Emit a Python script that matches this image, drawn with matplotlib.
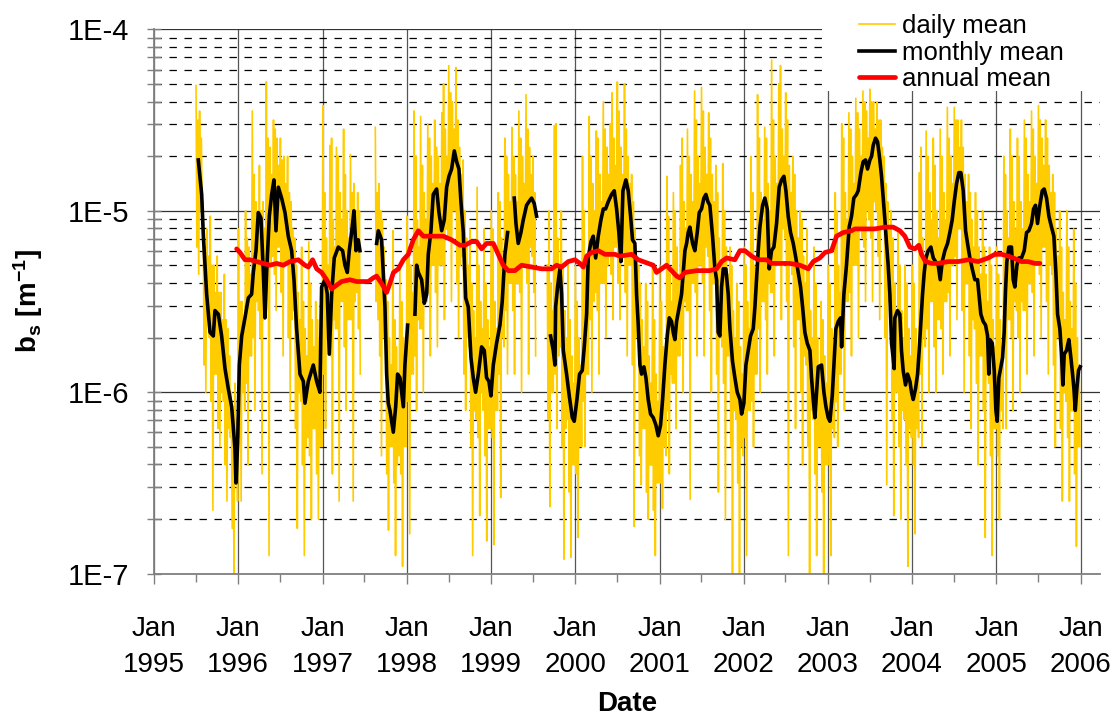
import numpy as np
import pandas as pd
import matplotlib
matplotlib.use("Agg")
import matplotlib.pyplot as plt
import matplotlib.dates as mdates
from matplotlib.ticker import LogLocator, NullFormatter
from matplotlib.patches import Rectangle

plt.rcParams['font.family'] = ['Liberation Sans', 'DejaVu Sans']
plt.rcParams['mathtext.fontset'] = 'custom'
plt.rcParams['mathtext.rm'] = 'Liberation Sans:bold'
plt.rcParams['mathtext.it'] = 'Liberation Sans:bold'
plt.rcParams['mathtext.bf'] = 'Liberation Sans:bold'

nan = float('nan')

# ---------------- tick labels ----------------
xtick_years = list(range(1995, 2007))
xtick_labels = ['Jan\n%d' % y for y in xtick_years]
ytick_values = [1e-7, 1e-6, 1e-5, 1e-4]
ytick_labels = ['1E-7', '1E-6', '1E-5', '1E-4']
legend_labels = ['daily mean', 'monthly mean', 'annual mean']

# ---------------- daily mean (log10 of b_s), 8 readings per month ----------------
daily_1995 = [  # Jul..Dec
    -4.31, -5.20, -4.50, -5.35, -4.45, -5.00, -4.60, -5.05,
    -4.95, -5.85, -5.20, -6.00, -5.10, -5.60, -5.25, -5.70,
    -5.03, -6.05, -5.30, -6.65, -5.30, -5.90, -5.45, -5.90,
    -5.25, -6.20, -5.45, -6.30, -5.45, -6.00, -5.60, -6.05,
    -5.35, -6.40, -5.60, -6.60, -5.65, -6.20, -5.80, -6.25,
    -6.00, -6.75, -6.10, -7.00, -5.95, -6.50, -6.15, -6.60]
daily_1996 = [
    -5.10, -6.25, -5.50, -6.60, -5.50, -6.00, -5.65, -6.10,
    -5.00, -5.95, -5.15, -6.40, -5.20, -5.80, -5.35, -5.80,
    -4.45, -5.70, -4.80, -6.10, -4.95, -5.50, -5.10, -5.55,
    -4.75, -5.70, -5.00, -6.45, -4.95, -5.60, -5.10, -5.55,
    -4.29, -5.40, -4.60, -6.90, -4.65, -5.30, -4.80, -5.25,
    -4.50, -5.35, -4.55, -5.55, -4.60, -5.20, -4.75, -5.20,
    -4.60, -5.45, -4.72, -5.80, -4.70, -5.30, -4.85, -5.30,
    -4.70, -5.70, -4.90, -6.10, -4.95, -5.60, -5.10, -5.55,
    -5.15, -6.20, -5.30, -6.75, -5.45, -6.00, -5.60, -6.05,
    -5.20, -6.40, -5.50, -6.90, -5.65, -6.30, -5.80, -6.25,
    -5.17, -6.35, -5.40, -6.70, -5.60, -6.20, -5.75, -6.20,
    -5.50, -6.45, -5.60, -6.70, -5.70, -6.30, -5.85, -6.30]
daily_1997 = [
    -4.42, -5.90, -4.90, -6.20, -5.15, -5.70, -5.30, -5.75,
    -4.64, -5.80, -4.60, -6.45, -5.05, -5.60, -5.20, -5.65,
    -4.65, -5.65, -4.70, -6.60, -4.90, -5.50, -5.05, -5.50,
    -4.55, -5.75, -4.80, -6.10, -5.00, -5.60, -5.15, -5.60,
    -4.69, -5.60, -4.90, -6.60, -4.85, -5.50, -5.00, -5.45,
    -4.90, -5.65, -5.00, -5.90, nan, nan, nan, nan,
    nan, nan, nan, nan, nan, nan, nan, nan,
    nan, nan, nan, nan, -4.54, -5.50, -4.90, -5.60,
    -4.85, -5.80, -5.00, -6.35, -5.05, -5.70, -5.20, -5.65,
    -5.38, -6.45, -5.50, -6.76, -5.70, -6.30, -5.85, -6.30,
    -5.11, -6.50, -5.60, -6.90, -5.75, -6.40, -5.90, -6.35,
    -5.30, -6.45, -5.50, -6.96, -5.70, -6.30, -5.85, -6.30]
daily_1998 = [
    -5.03, -6.05, -5.20, -6.78, -5.30, -5.90, -5.45, -5.90,
    -4.45, -5.80, -4.70, -6.10, -5.05, -5.60, -5.20, -5.65,
    -4.48, -5.65, -4.75, -6.00, -4.90, -5.50, -5.05, -5.50,
    -4.52, -5.45, -4.60, -5.80, -4.70, -5.30, -4.85, -5.30,
    -4.50, -5.45, -4.65, -5.75, -4.70, -5.30, -4.85, -5.30,
    -4.46, -5.30, -4.30, -5.60, -4.55, -5.10, -4.70, -5.15,
    -4.20, -5.15, -4.35, -5.50, -4.40, -5.00, -4.55, -5.00,
    -4.21, -5.40, -4.50, -5.70, -4.65, -5.30, -4.80, -5.25,
    -4.72, -5.90, -5.00, -6.10, -5.15, -5.70, -5.30, -5.75,
    -5.10, -6.30, -5.40, -6.90, -5.55, -6.10, -5.70, -6.15,
    -4.87, -6.25, -5.30, -6.68, -5.50, -6.00, -5.65, -6.10,
    -5.10, -6.35, -5.40, -6.82, -5.60, -6.20, -5.75, -6.20]
daily_1999 = [
    -5.00, -6.25, -5.10, -6.84, -5.50, -6.10, -5.65, -6.10,
    -4.90, -5.90, -4.95, -6.58, -5.15, -5.70, -5.30, -5.75,
    -4.60, -5.55, -4.70, -5.90, -4.80, -5.40, -4.95, -5.40,
    -4.54, -5.55, -4.70, -5.90, -4.80, -5.40, -4.95, -5.40,
    -4.45, -5.45, -4.60, -6.00, -4.70, -5.30, -4.85, -5.30,
    -4.36, -5.40, -4.55, -5.90, -4.65, -5.20, -4.80, -5.25,
    -4.70, -5.45, -4.90, -5.80, nan, nan, nan, nan,
    nan, nan, nan, nan, nan, nan, nan, nan,
    -5.30, -6.15, -5.00, -6.63, -5.40, -6.00, -5.55, -6.00,
    -4.53, -5.90, -4.52, -6.20, -5.15, -5.80, -5.30, -5.75,
    -5.00, -6.30, -5.30, -6.92, -5.55, -6.20, -5.70, -6.15,
    -5.30, -6.55, -5.60, -6.91, -5.80, -6.40, -5.95, -6.40]
daily_2000 = [
    -5.30, -6.45, -5.50, -6.80, -5.70, -6.30, -5.85, -6.30,
    -4.70, -6.05, -5.00, -6.30, -5.30, -5.90, -5.45, -5.90,
    -4.48, -5.60, -4.70, -6.00, -4.85, -5.50, -5.00, -5.45,
    -4.56, -5.55, -4.60, -5.90, -4.80, -5.40, -4.95, -5.40,
    -4.40, -5.40, -4.55, -5.70, -4.65, -5.30, -4.80, -5.25,
    -4.52, -5.35, -4.35, -5.60, -4.60, -5.20, -4.75, -5.20,
    -4.29, -5.40, -4.45, -5.60, -4.65, -5.25, -4.80, -5.25,
    -4.30, -5.45, -4.55, -5.80, -4.70, -5.30, -4.85, -5.30,
    -4.80, -5.85, -4.95, -6.74, -5.10, -5.70, -5.25, -5.70,
    -5.30, -6.35, -5.40, -6.51, -5.60, -6.20, -5.75, -6.20,
    -5.40, -6.55, -5.50, -6.70, -5.80, -6.40, -5.95, -6.40,
    -5.30, -6.65, -5.60, -6.90, -5.90, -6.50, -6.05, -6.50]
daily_2001 = [
    -5.30, -6.50, -5.50, -6.64, -5.75, -6.30, -5.90, -6.35,
    -4.81, -6.10, -5.03, -6.45, -5.35, -5.90, -5.50, -5.95,
    -4.90, -5.95, -5.00, -6.20, -5.20, -5.80, -5.35, -5.80,
    -4.75, -5.70, -4.60, -6.00, -4.95, -5.50, -5.10, -5.55,
    -4.55, -5.55, -4.70, -6.59, -4.80, -5.40, -4.95, -5.40,
    -4.34, -5.45, -4.50, -5.80, -4.70, -5.30, -4.85, -5.30,
    -4.32, -5.40, -4.45, -5.80, -4.65, -5.20, -4.80, -5.25,
    -4.46, -5.55, -4.60, -6.00, -4.80, -5.40, -4.95, -5.40,
    -4.75, -5.90, -4.90, -6.55, -5.15, -5.70, -5.30, -5.75,
    -4.74, -5.95, -5.00, -6.70, -5.20, -5.80, -5.35, -5.80,
    -5.20, -6.30, -5.30, -7.00, -5.55, -6.10, -5.70, -6.15,
    -5.40, -6.50, -5.50, -7.00, -5.75, -6.30, -5.90, -6.35]
daily_2002 = [
    -5.20, -6.25, -5.30, -6.90, -5.50, -6.10, -5.65, -6.10,
    -4.70, -6.05, -4.90, -6.30, -5.30, -5.90, -5.45, -5.90,
    -4.36, -5.65, -4.60, -6.00, -4.90, -5.50, -5.05, -5.50,
    -4.54, -5.60, -4.60, -5.90, -4.85, -5.40, -5.00, -5.45,
    -4.17, -5.45, -4.50, -5.80, -4.70, -5.30, -4.85, -5.30,
    -4.30, -5.30, -4.20, -5.60, -4.55, -5.10, -4.70, -5.15,
    -4.35, -5.50, -4.50, -6.90, -4.75, -5.30, -4.90, -5.35,
    -4.70, -5.75, -4.80, -6.20, -5.00, -5.60, -5.15, -5.60,
    -5.00, -6.00, -5.05, -6.40, -5.25, -5.80, -5.40, -5.85,
    -5.10, -6.30, -5.30, -7.00, -5.55, -6.10, -5.70, -6.15,
    -5.20, -6.45, -5.40, -6.90, -5.70, -6.30, -5.85, -6.30,
    -5.50, -6.55, -5.60, -7.00, -5.80, -6.40, -5.95, -6.40]
daily_2003 = [
    -5.30, -6.40, -5.40, -6.90, -5.65, -6.20, -5.80, -6.25,
    -4.90, -6.05, -5.00, -6.30, -5.30, -5.90, -5.45, -5.90,
    -4.52, -5.65, -4.60, -6.10, -4.90, -5.50, -5.05, -5.50,
    -4.46, -5.45, -4.55, -5.80, -4.70, -5.30, -4.85, -5.30,
    -4.38, -5.30, -4.46, -5.70, -4.55, -5.10, -4.70, -5.15,
    -4.34, -5.20, -4.40, -5.50, -4.45, -5.00, -4.60, -5.05,
    -4.33, -5.15, -4.40, -5.50, -4.40, -4.95, -4.55, -5.00,
    -4.40, -5.25, -4.50, -5.60, -4.50, -5.10, -4.65, -5.10,
    -4.70, -5.70, -4.85, -6.51, -4.95, -5.50, -5.10, -5.55,
    -5.00, -6.15, -5.15, -6.68, -5.40, -6.00, -5.55, -6.00,
    -5.10, -6.30, -5.30, -6.70, -5.55, -6.10, -5.70, -6.15,
    -5.30, -6.40, -5.40, -6.96, -5.65, -6.20, -5.80, -6.25]
daily_2004 = [
    -5.30, -6.40, -5.40, -6.78, -5.65, -6.20, -5.80, -6.25,
    -4.79, -5.90, -4.65, -6.30, -5.15, -5.70, -5.30, -5.75,
    -4.56, -5.65, -4.70, -6.00, -4.90, -5.50, -5.05, -5.50,
    -4.60, -5.75, -4.75, -6.00, -5.00, -5.60, -5.15, -5.60,
    -4.55, -5.65, -4.70, -5.90, -4.90, -5.50, -5.05, -5.50,
    -4.43, -5.45, -4.60, -5.80, -4.70, -5.30, -4.85, -5.30,
    -4.43, -5.25, -4.50, -5.60, -4.50, -5.10, -4.65, -5.10,
    -4.50, -5.55, -4.65, -6.00, -4.80, -5.40, -4.95, -5.40,
    -4.80, -5.80, -4.90, -6.20, -5.05, -5.60, -5.20, -5.65,
    -4.90, -5.95, -5.00, -6.40, -5.20, -5.80, -5.35, -5.80,
    -5.00, -6.10, -5.20, -6.80, -5.35, -5.90, -5.50, -5.95,
    -5.20, -6.35, -5.30, -6.90, -5.60, -6.20, -5.75, -6.20]
daily_2005 = [
    -5.20, -6.35, -5.35, -6.70, -5.60, -6.10, -5.75, -6.20,
    -4.70, -5.75, -4.80, -6.20, -5.00, -5.60, -5.15, -5.60,
    -4.55, -5.70, -4.70, -6.10, -4.95, -5.50, -5.10, -5.55,
    -4.60, -5.70, -4.70, -6.00, -4.95, -5.50, -5.10, -5.55,
    -4.50, -5.55, -4.60, -5.90, -4.80, -5.40, -4.95, -5.40,
    -4.45, -5.45, -4.55, -5.80, -4.70, -5.30, -4.85, -5.30,
    -4.42, -5.35, -4.50, -5.70, -4.60, -5.20, -4.75, -5.20,
    -4.50, -5.50, -4.60, -5.90, -4.75, -5.30, -4.90, -5.35,
    -4.80, -5.85, -4.90, -6.30, -5.10, -5.70, -5.25, -5.70,
    -5.00, -6.20, -5.20, -6.60, -5.45, -6.00, -5.60, -6.05,
    -5.00, -6.25, -5.20, -6.60, -5.50, -6.10, -5.65, -6.10,
    -5.10, -6.45, -5.40, -6.85, -5.70, -6.30, -5.85, -6.30]

# ---------------- monthly (running) mean: decimal year, log10 value ----------------
monthly_t = [
    1995.526, 1995.566, 1995.586, 1995.625, 1995.665, 1995.704, 1995.724, 1995.764, 1995.803, 1995.843,
    1995.882, 1995.922, 1995.961, 1995.973, 1995.993, 1996.013, 1996.041, 1996.080, 1996.120, 1996.159,
    1996.179, 1996.211, 1996.238, 1996.270, 1996.298, 1996.318, 1996.337, 1996.369, 1996.397, 1996.424,
    1996.448, 1996.476, 1996.515, 1996.555, 1996.594, 1996.634, 1996.662, 1996.693, 1996.733, 1996.773,
    1996.792, 1996.832, 1996.891, 1996.931, 1996.970, 1996.990, 1997.030, 1997.057, 1997.081, 1997.109,
    1997.140, 1997.188, 1997.239, 1997.267, 1997.295, 1997.318, 1997.346, 1997.374, 1997.398, 1997.425,
    1997.445,
    1997.540,
    1997.643, 1997.663, 1997.702, 1997.742, 1997.762, 1997.781, 1997.801, 1997.841, 1997.869, 1997.892,
    1997.920, 1997.960, 1997.979, 1998.011,
    1998.050,
    1998.098, 1998.118, 1998.138, 1998.177, 1998.209, 1998.237, 1998.256, 1998.288, 1998.315, 1998.355,
    1998.383, 1998.415, 1998.446, 1998.474, 1998.502, 1998.533, 1998.565, 1998.593, 1998.620, 1998.644,
    1998.672, 1998.700, 1998.731, 1998.763, 1998.790, 1998.818, 1998.850, 1998.889, 1998.921, 1998.948,
    1998.976, 1999.000, 1999.028, 1999.067, 1999.107, 1999.134, 1999.166, 1999.198,
    1999.240,
    1999.277, 1999.297, 1999.324, 1999.356, 1999.384, 1999.423, 1999.451, 1999.483, 1999.514, 1999.542,
    1999.620,
    1999.708, 1999.740, 1999.760, 1999.768, 1999.791, 1999.819, 1999.839, 1999.859, 1999.898, 1999.930,
    1999.966, 1999.989, 2000.021, 2000.052, 2000.084, 2000.108, 2000.136, 2000.155, 2000.187, 2000.215,
    2000.243, 2000.274, 2000.306, 2000.334, 2000.361, 2000.393, 2000.432, 2000.464, 2000.492, 2000.519,
    2000.543, 2000.567,
    2000.602, 2000.630, 2000.658, 2000.681, 2000.709, 2000.729, 2000.749, 2000.769, 2000.788, 2000.816,
    2000.840, 2000.867, 2000.895, 2000.927, 2000.958, 2000.986, 2001.014, 2001.038, 2001.065, 2001.093,
    2001.117, 2001.144, 2001.164, 2001.184, 2001.204, 2001.235, 2001.263, 2001.283, 2001.303, 2001.323,
    2001.342, 2001.362, 2001.394, 2001.421, 2001.449, 2001.473, 2001.500, 2001.528, 2001.552, 2001.576,
    2001.599, 2001.631, 2001.659, 2001.679, 2001.698, 2001.718, 2001.738, 2001.758, 2001.789, 2001.817,
    2001.837, 2001.868, 2001.896, 2001.924, 2001.956, 2001.976, 2002.003, 2002.027, 2002.055, 2002.082,
    2002.114, 2002.134, 2002.153, 2002.173, 2002.193, 2002.225, 2002.252, 2002.280, 2002.304, 2002.331,
    2002.359, 2002.391, 2002.422, 2002.450, 2002.478, 2002.502, 2002.529, 2002.557, 2002.589, 2002.620,
    2002.648, 2002.676, 2002.700, 2002.727, 2002.755, 2002.787, 2002.806, 2002.826, 2002.846, 2002.866,
    2002.886, 2002.925, 2002.953, 2002.977, 2003.004, 2003.024, 2003.052, 2003.072, 2003.095, 2003.123,
    2003.151, 2003.163, 2003.190, 2003.221, 2003.253, 2003.281, 2003.308, 2003.340,
    2003.360, 2003.392, 2003.419, 2003.447, 2003.471, 2003.499, 2003.519, 2003.538, 2003.566, 2003.590,
    2003.617, 2003.637, 2003.657, 2003.677, 2003.696, 2003.716, 2003.736, 2003.756, 2003.775, 2003.787,
    2003.795, 2003.827, 2003.854, 2003.874, 2003.894, 2003.922, 2003.946, 2003.974, 2003.993, 2004.013,
    2004.041, 2004.065, 2004.084, 2004.104, 2004.124, 2004.144, 2004.164, 2004.191, 2004.223, 2004.251,
    2004.278, 2004.310, 2004.334, 2004.358, 2004.389, 2004.421, 2004.448, 2004.476, 2004.500, 2004.528,
    2004.555, 2004.579, 2004.607, 2004.635, 2004.658, 2004.686, 2004.714, 2004.745, 2004.777, 2004.793,
    2004.816, 2004.844, 2004.872, 2004.896, 2004.911, 2004.923, 2004.951, 2004.975, 2004.995, 2005.010,
    2005.030, 2005.054, 2005.074, 2005.093, 2005.109, 2005.125, 2005.149, 2005.180, 2005.200, 2005.220,
    2005.244, 2005.267, 2005.299, 2005.331, 2005.359, 2005.386, 2005.418, 2005.442, 2005.465, 2005.489,
    2005.517, 2005.545, 2005.568, 2005.596, 2005.624, 2005.655, 2005.683, 2005.707, 2005.727, 2005.754,
    2005.774, 2005.790, 2005.806, 2005.833, 2005.861, 2005.885, 2005.905, 2005.921, 2005.937, 2005.956,
    2005.976, 2005.996]
monthly_log10 = [
    -4.72, -4.91, -5.14, -5.46, -5.67, -5.69, -5.55, -5.57, -5.69, -5.87,
    -5.98, -6.08, -6.31, -6.50, -6.28, -5.85, -5.69, -5.59, -5.48, -5.46,
    -5.34, -5.22, -5.01, -5.04, -5.34, -5.59, -5.34, -5.03, -4.91, -4.83,
    -5.11, -4.87, -4.93, -5.01, -5.14, -5.22, -5.38, -5.65, -5.90, -5.94,
    -6.06, -5.94, -5.85, -5.94, -6.00, -5.42, -5.38, -5.46, -5.79, -5.46,
    -5.26, -5.20, -5.22, -5.30, -5.34, -5.22, -5.12, -5.00, -5.22, -5.16,
    -5.22,
    nan,
    -5.18, -5.11, -5.16, -5.53, -5.90, -6.06, -6.10, -6.22, -6.08, -5.90,
    -5.92, -6.08, -5.85, -5.63,
    nan,
    -5.57, -5.30, -5.34, -5.38, -5.51, -5.46, -5.24, -5.11, -4.91, -4.88,
    -5.01, -5.11, -5.05, -4.87, -4.81, -4.77, -4.67, -4.73, -4.77, -4.95,
    -5.12, -5.48, -5.53, -5.81, -5.92, -6.00, -5.90, -5.75, -5.77, -5.92,
    -5.94, -6.02, -5.85, -5.73, -5.63, -5.50, -5.24, -5.12,
    nan,
    -4.93, -5.07, -5.18, -5.12, -5.05, -4.97, -4.95, -4.93, -4.96, -5.03,
    nan,
    -5.69, -5.77, -5.85, -5.53, -5.42, -5.32, -5.46, -5.77, -5.90, -6.02,
    -6.14, -6.16, -6.04, -5.90, -5.88, -5.75, -5.57, -5.26, -5.17, -5.14,
    -5.26, -5.14, -5.05, -4.99, -4.99, -4.95, -4.91, -4.89, -4.99, -5.12,
    -5.28, -4.89,
    -4.83, -4.89, -5.03, -5.16, -5.18, -5.46, -5.63, -5.85, -5.90, -5.86,
    -5.92, -6.04, -6.12, -6.14, -6.18, -6.24, -6.18, -6.04, -5.85, -5.69,
    -5.59, -5.61, -5.67, -5.71, -5.61, -5.53, -5.46, -5.34, -5.22, -5.18,
    -5.12, -5.09, -5.18, -5.22, -5.12, -5.01, -4.99, -4.93, -4.91, -4.95,
    -4.97, -5.14, -5.32, -5.38, -5.67, -5.69, -5.42, -5.32, -5.32, -5.46,
    -5.65, -5.83, -5.92, -6.00, -6.04, -6.12, -6.06, -5.85, -5.77, -5.69,
    -5.65, -5.53, -5.38, -5.22, -5.09, -4.97, -4.93, -4.99, -5.32, -5.22,
    -5.20, -5.07, -4.87, -4.83, -4.81, -4.89, -5.03, -5.12, -5.18, -5.26,
    -5.34, -5.42, -5.53, -5.67, -5.73, -5.77, -5.92, -6.04, -6.14, -6.00,
    -5.86, -5.85, -6.00, -6.08, -6.14, -6.16, -6.02, -5.85, -5.65, -5.61,
    -5.59, -5.75, -5.46, -5.30, -5.09, -5.03, -4.93, -4.91,
    -4.89, -4.79, -4.73, -4.72, -4.77, -4.72, -4.70, -4.64, -4.60, -4.62,
    -4.72, -4.81, -4.93, -5.05, -5.18, -5.30, -5.46, -5.73, -5.81, -5.87,
    -5.59, -5.55, -5.57, -5.77, -5.88, -5.96, -5.90, -5.94, -6.00, -6.04,
    -5.98, -5.90, -5.77, -5.61, -5.46, -5.34, -5.26, -5.22, -5.20, -5.26,
    -5.28, -5.30, -5.38, -5.28, -5.22, -5.18, -5.12, -5.05, -4.95, -4.85,
    -4.79, -4.79, -4.89, -5.11, -5.18, -5.26, -5.32, -5.38, -5.38, -5.46,
    -5.57, -5.61, -5.63, -5.69, -5.90, -5.71, -5.73, -5.88, -6.10, -6.16,
    -5.92, -5.86, -5.81, -5.67, -5.44, -5.28, -5.20, -5.20, -5.38, -5.42,
    -5.30, -5.26, -5.26, -5.22, -5.12, -5.11, -5.07, -4.99, -4.97, -5.07,
    -4.97, -4.89, -4.88, -4.93, -5.03, -5.09, -5.14, -5.34, -5.57, -5.65,
    -5.79, -5.96, -5.79, -5.77, -5.71, -5.81, -5.90, -5.98, -6.10, -5.98,
    -5.88, -5.86]

# ---------------- annual (running) mean: decimal year, log10 value ----------------
annual_t = [
    1995.981, 1996.021, 1996.080, 1996.139, 1996.219, 1996.298, 1996.377, 1996.456, 1996.535, 1996.614,
    1996.713, 1996.792, 1996.832, 1996.883, 1996.931, 1996.990, 1997.049, 1997.109, 1997.168, 1997.227,
    1997.326, 1997.406, 1997.485, 1997.544, 1997.603, 1997.643, 1997.702, 1997.762, 1997.801, 1997.843,
    1997.901, 1997.960, 1998.019, 1998.078, 1998.138, 1998.197, 1998.296, 1998.434, 1998.533, 1998.632,
    1998.692, 1998.771, 1998.830, 1998.889, 1998.948, 1999.028, 1999.087, 1999.146, 1999.206, 1999.285,
    1999.364, 1999.483, 1999.601, 1999.720, 1999.780, 1999.839, 1999.918, 1999.997, 2000.056, 2000.096,
    2000.136, 2000.195, 2000.274, 2000.353, 2000.472, 2000.531, 2000.670, 2000.749, 2000.867, 2000.927,
    2000.966, 2001.026, 2001.085, 2001.144, 2001.204, 2001.243, 2001.303, 2001.441, 2001.599, 2001.679,
    2001.738, 2001.797, 2001.896, 2001.956, 2002.015, 2002.094, 2002.173, 2002.272, 2002.331, 2002.430,
    2002.549, 2002.668, 2002.767, 2002.826, 2002.905, 2002.965, 2003.044, 2003.103, 2003.182, 2003.281,
    2003.321, 2003.439, 2003.558, 2003.677, 2003.775, 2003.855, 2003.914, 2003.973, 2004.033, 2004.080,
    2004.112, 2004.159, 2004.231, 2004.310, 2004.429, 2004.547, 2004.666, 2004.785, 2004.904, 2004.983,
    2005.062, 2005.141, 2005.200, 2005.299, 2005.378, 2005.457, 2005.517]
annual_log10 = [
    -5.21, -5.23, -5.27, -5.27, -5.28, -5.29, -5.30, -5.29, -5.30, -5.28,
    -5.27, -5.30, -5.31, -5.27, -5.32, -5.34, -5.38, -5.43, -5.41, -5.39,
    -5.38, -5.39, -5.39, -5.39, -5.37, -5.36, -5.40, -5.45, -5.40, -5.34,
    -5.32, -5.27, -5.24, -5.16, -5.11, -5.14, -5.14, -5.14, -5.16, -5.19,
    -5.19, -5.17, -5.17, -5.21, -5.18, -5.18, -5.24, -5.30, -5.33, -5.33,
    -5.30, -5.31, -5.32, -5.32, -5.30, -5.31, -5.28, -5.27, -5.29, -5.31,
    -5.25, -5.23, -5.22, -5.24, -5.24, -5.25, -5.24, -5.27, -5.29, -5.30,
    -5.34, -5.32, -5.30, -5.33, -5.36, -5.37, -5.34, -5.33, -5.33, -5.32,
    -5.28, -5.26, -5.27, -5.22, -5.22, -5.25, -5.27, -5.27, -5.29, -5.29,
    -5.29, -5.30, -5.32, -5.28, -5.26, -5.23, -5.22, -5.14, -5.12, -5.11,
    -5.10, -5.10, -5.10, -5.09, -5.09, -5.11, -5.14, -5.20, -5.21, -5.19,
    -5.24, -5.28, -5.29, -5.29, -5.28, -5.28, -5.27, -5.28, -5.26, -5.24,
    -5.24, -5.25, -5.26, -5.28, -5.28, -5.29, -5.29]

assert len(monthly_t) == len(monthly_log10)
assert len(annual_t) == len(annual_log10)


def year_to_date(t):
    t = np.asarray(t, dtype=float)
    base = np.datetime64('1995-01-01T00:00')
    return base + np.round((t - 1995.0) * 365.25 * 1440).astype('timedelta64[m]')


# daily readings: eight per month
month_starts = pd.date_range('1995-07-01', '2005-12-01', freq='MS')
daily_log10 = np.concatenate([daily_1995, daily_1996, daily_1997, daily_1998, daily_1999,
                              daily_2000, daily_2001, daily_2002, daily_2003, daily_2004,
                              daily_2005])
per_month = 8
assert len(daily_log10) == per_month * len(month_starts)
in_month = [(k + 0.3) / per_month for k in range(per_month)]
daily_dates = np.array([ms + pd.Timedelta(days=f * ms.days_in_month)
                        for ms in month_starts for f in in_month], dtype='datetime64[m]')

# ---------------- figure ----------------
W, H = 1115, 715
fig = plt.figure(figsize=(W / 100, H / 100), dpi=100)
ax_left, ax_right, ax_top, ax_bot = 154, 1100, 29.3, 573.7
ax = fig.add_axes([ax_left / W, 1 - ax_bot / H, (ax_right - ax_left) / W, (ax_bot - ax_top) / H])

ax.plot(daily_dates, 10 ** daily_log10, color='#FFCC00', lw=1.2, zorder=2, label=legend_labels[0])
ax.plot(year_to_date(monthly_t), 10 ** np.array(monthly_log10), color='black', lw=2.6,
        zorder=3, label=legend_labels[1])
ax.plot(year_to_date(annual_t), 10 ** np.array(annual_log10), color='#FF0000', lw=3.4,
        zorder=4, label=legend_labels[2], solid_capstyle='round')

ax.set_yscale('log')
ax.set_ylim(ytick_values[0], ytick_values[-1])
ax.set_yticks(ytick_values, labels=ytick_labels, fontsize=21)
ax.yaxis.set_minor_locator(LogLocator(base=10, subs=range(2, 10)))
ax.yaxis.set_minor_formatter(NullFormatter())

xticks = [np.datetime64('%d-01-01' % y) for y in xtick_years]
ax.set_xticks(xticks, labels=xtick_labels, fontsize=20, linespacing=1.54)
ax.xaxis.set_minor_locator(mdates.MonthLocator(bymonth=7))
ax.set_xlim(np.datetime64('1995-01-01'), np.datetime64('2006-03-26'))

ax.set_axisbelow(True)
ax.grid(which='major', axis='x', color='#555555', lw=0.9, ls='-')
ax.grid(which='major', axis='y', color='#333333', lw=0.9, ls='-')
ax.grid(which='minor', axis='y', color='black', lw=0.9, ls=(0, (5.9, 6.1)))

for s in ['top', 'right']:
    ax.spines[s].set_visible(False)
for s in ['left', 'bottom']:
    ax.spines[s].set_color('#808080')
    ax.spines[s].set_linewidth(1.3)

ax.tick_params(axis='y', which='both', direction='inout', length=9.5, width=1,
               color='#808080', pad=13)
ax.tick_params(axis='x', which='major', direction='out', length=7.5, width=1,
               color='#808080', pad=22.6)
ax.tick_params(axis='x', which='minor', direction='out', length=6, width=1,
               color='#808080')

ax.set_ylabel(r'$\mathrm{b_s\ [m^{-1}]}$', fontsize=20)
ax.yaxis.set_label_coords(-0.115, 0.5)
ax.set_xlabel('Date', fontsize=20, fontweight='bold')
ax.xaxis.set_label_coords(0.5, -0.2155)

# white area behind the legend (hides grid lines there)
ax.add_patch(Rectangle((822 / W, 1 - 91 / H), 1 - 822 / W, 91 / H, transform=fig.transFigure,
                       facecolor='white', edgecolor='none', zorder=1.5, clip_on=False))

leg = ax.legend(loc='upper left', bbox_to_anchor=(854 / W, 1 - 9 / H),
                bbox_transform=fig.transFigure, frameon=False, fontsize=18.5,
                handlelength=1.4, handletextpad=0.28, labelspacing=0.1,
                borderpad=0.2, borderaxespad=0)
leg.set_zorder(6)

fig.savefig('out.png', dpi=100)
